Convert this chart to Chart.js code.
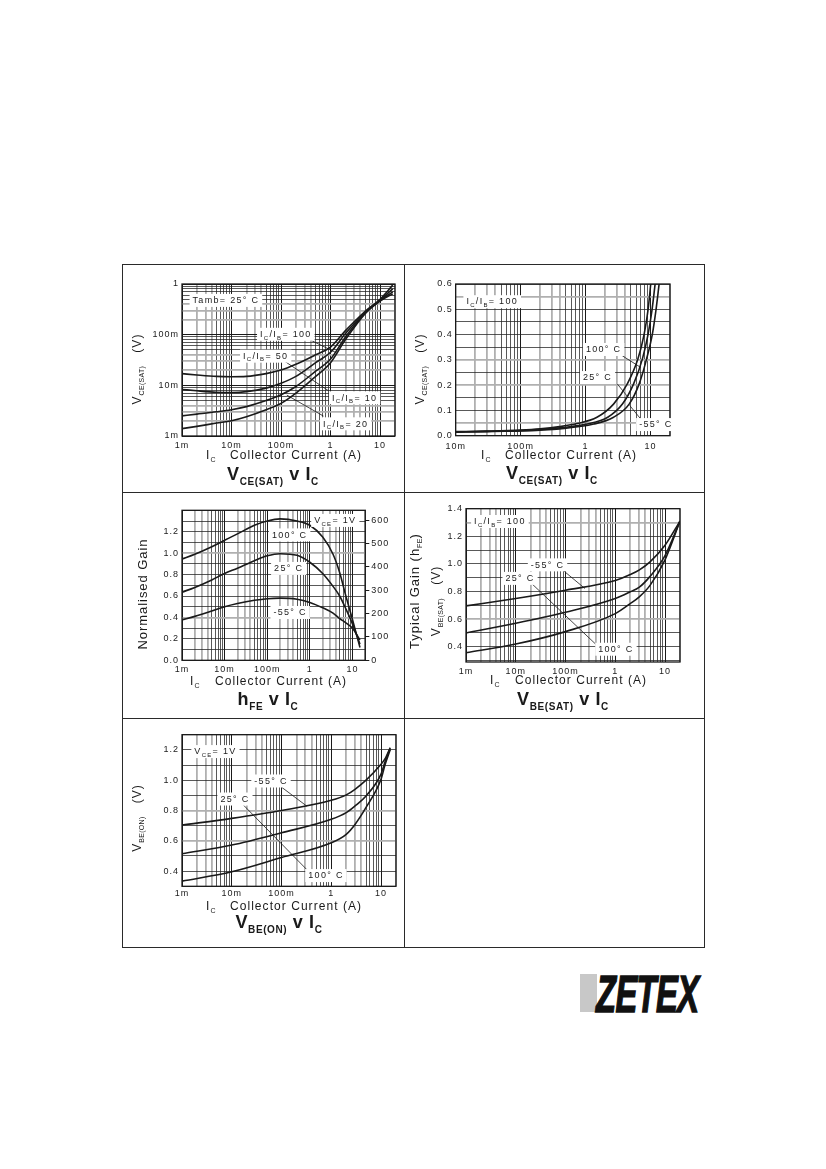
<!DOCTYPE html>
<html>
<head>
<meta charset="utf-8">
<script src="https://cdn.jsdelivr.net/npm/chart.js@4.4.1/dist/chart.umd.min.js"></script>
<style>
  body { margin: 0; background: #fff; }
  #page { position: relative; width: 826px; height: 1169px; overflow: hidden; font-family: "Liberation Sans", Arial, sans-serif; color: #1a1a1a; }
  .rule { position: absolute; background: #2a2a2a; }
  canvas { position: absolute; }
  .t { position: absolute; white-space: nowrap; font-size: 12px; line-height: 12px; letter-spacing: 1.05px; }
  .t sub { font-size: 7px; vertical-align: -3px; letter-spacing: 0.3px; }
  .g { font-size: 13px; line-height: 13px; letter-spacing: 0.95px; }
  .rot { transform: translate(-50%, -50%) rotate(-90deg); }
  .ttl { position: absolute; white-space: nowrap; font-weight: bold; font-size: 18px; line-height: 18px; letter-spacing: 0.6px; transform: translate(-50%, -50%); }
  .ttl sub { font-size: 10px; vertical-align: -5px; }
</style>
</head>
<body>
<div id="page">
  <div class="rule" style="left:122px;top:264px;width:583px;height:1px"></div>
  <div class="rule" style="left:122px;top:947px;width:583px;height:1px"></div>
  <div class="rule" style="left:122px;top:264px;width:1px;height:684px"></div>
  <div class="rule" style="left:704px;top:264px;width:1px;height:684px"></div>
  <div class="rule" style="left:404px;top:264px;width:1px;height:684px"></div>
  <div class="rule" style="left:122px;top:492px;width:583px;height:1px"></div>
  <div class="rule" style="left:122px;top:718px;width:583px;height:1px"></div>

  <canvas id="c1" width="283" height="228" style="left:122px;top:264px"></canvas>
  <canvas id="c2" width="300" height="228" style="left:405px;top:264px"></canvas>
  <canvas id="c3" width="283" height="226" style="left:122px;top:492px"></canvas>
  <canvas id="c4" width="300" height="226" style="left:405px;top:492px"></canvas>
  <canvas id="c5" width="283" height="230" style="left:122px;top:718px"></canvas>

  <!-- axis titles -->
  <div class="t" style="left:206px;top:449px">I<sub>C</sub></div>
  <div class="t" style="left:230px;top:449px">Collector Current (A)</div>
  <div class="t rot" style="left:139px;top:369px">V<sub>CE(SAT)</sub>&nbsp;&nbsp;&nbsp;(V)</div>
  <div class="ttl" style="left:273px;top:478px">V<sub>CE(SAT)</sub> v I<sub>C</sub></div>

  <div class="t" style="left:481px;top:449px">I<sub>C</sub></div>
  <div class="t" style="left:505px;top:449px">Collector Current (A)</div>
  <div class="t rot" style="left:422px;top:369px">V<sub>CE(SAT)</sub>&nbsp;&nbsp;&nbsp;(V)</div>
  <div class="ttl" style="left:552px;top:477px">V<sub>CE(SAT)</sub> v I<sub>C</sub></div>

  <div class="t" style="left:190px;top:675px">I<sub>C</sub></div>
  <div class="t" style="left:215px;top:675px">Collector Current (A)</div>
  <div class="t g rot" style="left:142px;top:594px">Normalised Gain</div>
  <div class="ttl" style="left:268px;top:703px">h<sub>FE</sub> v I<sub>C</sub></div>

  <div class="t" style="left:490px;top:674px">I<sub>C</sub></div>
  <div class="t" style="left:515px;top:674px">Collector Current (A)</div>
  <div class="t g rot" style="left:417px;top:591px">Typical Gain (h<sub>FE</sub>)</div>
  <div class="t rot" style="left:438px;top:601px">V<sub>BE(SAT)</sub>&nbsp;&nbsp;&nbsp;(V)</div>
  <div class="ttl" style="left:563px;top:703px">V<sub>BE(SAT)</sub> v I<sub>C</sub></div>

  <div class="t" style="left:206px;top:900px">I<sub>C</sub></div>
  <div class="t" style="left:230px;top:900px">Collector Current (A)</div>
  <div class="t rot" style="left:139px;top:818px">V<sub>BE(ON)</sub>&nbsp;&nbsp;&nbsp;(V)</div>
  <div class="ttl" style="left:279px;top:926px">V<sub>BE(ON)</sub> v I<sub>C</sub></div>

  <!-- logo -->
  <div style="position:absolute;left:580px;top:974px;width:17px;height:38px;background:#c8c8c8"></div>
  <div style="position:absolute;left:596px;top:968px;font:italic bold 52px/1 'Liberation Sans',Arial,sans-serif;letter-spacing:-1px;transform:scaleX(0.63);transform-origin:0 0;-webkit-text-stroke:1.5px #111;color:#111">ZETEX</div>
</div>

<script>
const INK = '#1a1a1a';
const GREY = '#b0b0b0';
const TICK_FONT = { size: 9 };

// ---- VCE(SAT) v IC at Tamb = 25 C, one curve per IC/IB ----
const satIc = [0.001, 0.002, 0.005, 0.01, 0.02, 0.05, 0.1, 0.2, 0.5, 1, 2, 5, 10, 18];
const sat100 = [0.017, 0.016, 0.015, 0.0148, 0.015, 0.017, 0.02, 0.026, 0.04, 0.057, 0.12, 0.29, 0.5, 0.95];
const sat50 = [0.0083, 0.0078, 0.0073, 0.0072, 0.0075, 0.0088, 0.011, 0.015, 0.028, 0.045, 0.105, 0.28, 0.48, 0.8];
const sat20 = [0.0025, 0.0027, 0.003, 0.0033, 0.0038, 0.005, 0.0065, 0.0095, 0.019, 0.033, 0.09, 0.27, 0.47, 0.7];
const sat10 = [0.0014, 0.00155, 0.0018, 0.002, 0.0024, 0.0033, 0.0044, 0.007, 0.015, 0.028, 0.08, 0.26, 0.46, 0.64];

// ---- VCE(SAT) v IC at IC/IB = 100, per temperature ----
const tsatHotIc = [0.01, 0.03, 0.1, 0.2, 0.4, 0.74, 1.5, 2.7, 4.4, 6.4, 8.0, 9.2, 10.1];
const tsatHot = [0.016, 0.018, 0.022, 0.027, 0.036, 0.048, 0.073, 0.125, 0.205, 0.303, 0.402, 0.5, 0.6];
const tsatRoomIc = [0.01, 0.03, 0.1, 0.2, 0.4, 1.06, 2.2, 3.7, 5.5, 7.5, 9.2, 10.6, 11.8];
const tsatRoom = [0.015, 0.017, 0.02, 0.024, 0.031, 0.046, 0.073, 0.125, 0.205, 0.303, 0.402, 0.5, 0.6];
const tsatColdIc = [0.01, 0.03, 0.1, 0.2, 0.4, 1.34, 2.7, 4.7, 6.7, 8.7, 10.7, 12.2, 13.6];
const tsatCold = [0.014, 0.016, 0.019, 0.022, 0.027, 0.046, 0.073, 0.125, 0.205, 0.303, 0.402, 0.5, 0.6];

// ---- hFE v IC (normalised gain) ----
const gainIc = [0.001, 0.002, 0.005, 0.01, 0.02, 0.05, 0.1, 0.2, 0.5, 1, 2, 3.5, 5, 7, 10, 15];
const gainHot = [0.946, 0.99, 1.06, 1.12, 1.18, 1.26, 1.30, 1.32, 1.30, 1.26, 1.15, 0.99, 0.82, 0.60, 0.38, 0.12];
const gainRoom = [0.636, 0.68, 0.75, 0.81, 0.86, 0.93, 0.975, 0.995, 0.98, 0.915, 0.81, 0.69, 0.60, 0.48, 0.34, 0.15];
const gainCold = [0.378, 0.41, 0.46, 0.50, 0.53, 0.56, 0.575, 0.58, 0.57, 0.54, 0.49, 0.44, 0.39, 0.35, 0.30, 0.19];

// ---- VBE(SAT) v IC ----
const vbeIc = [0.001, 0.01, 0.1, 1, 2, 3, 5, 10, 20];
const vbeCold = [0.696, 0.75, 0.81, 0.88, 0.923, 0.955, 1.015, 1.135, 1.31];
const vbeRoom = [0.50, 0.57, 0.65, 0.75, 0.798, 0.83, 0.91, 1.06, 1.31];
const vbeHot = [0.357, 0.42, 0.51, 0.64, 0.713, 0.76, 0.845, 1.03, 1.31];

// ---- VBE(ON) v IC ----
const onIc = [0.001, 0.01, 0.1, 1, 2, 3, 5, 10, 12, 15.3];
const onCold = [0.704, 0.748, 0.80, 0.867, 0.903, 0.94, 1.0, 1.105, 1.14, 1.215];
const onRoom = [0.515, 0.572, 0.653, 0.742, 0.786, 0.83, 0.896, 1.04, 1.12, 1.21];
const onHot = [0.334, 0.396, 0.49, 0.587, 0.643, 0.708, 0.82, 1.006, 1.10, 1.2];

// tick labels
const ampTicks = [0.001, 0.01, 0.1, 1, 10];
const ampLabels = ['1m', '10m', '100m', '1', '10'];
const ampTicks2 = [0.01, 0.1, 1, 10];
const ampLabels2 = ['10m', '100m', '1', '10'];
const voltLogTicks = [0.001, 0.01, 0.1, 1];
const voltLogLabels = ['1m', '10m', '100m', '1'];
const satTicks = [0, 0.1, 0.2, 0.3, 0.4, 0.5, 0.6];
const satLabels = ['0.0', '0.1', '0.2', '0.3', '0.4', '0.5', '0.6'];
const gainTicks = [0, 0.2, 0.4, 0.6, 0.8, 1.0, 1.2];
const gainLabels = ['0.0', '0.2', '0.4', '0.6', '0.8', '1.0', '1.2'];
const hfeTicks = [0, 100, 200, 300, 400, 500, 600];
const hfeLabels = ['0', '100', '200', '300', '400', '500', '600'];
const vbeTicks = [0.4, 0.6, 0.8, 1.0, 1.2, 1.4];
const vbeLabels = ['0.4', '0.6', '0.8', '1.0', '1.2', '1.4'];
const onTicks = [0.4, 0.6, 0.8, 1.0, 1.2];
const onLabels = ['0.4', '0.6', '0.8', '1.0', '1.2'];

Chart.defaults.font.family = '"Liberation Sans", Arial, sans-serif';
Chart.defaults.color = INK;
Chart.defaults.animation = false;
Chart.defaults.plugins.legend.display = false;
Chart.defaults.plugins.tooltip.enabled = false;

function logGrid(min, max) {
  const out = [];
  for (let e = Math.floor(Math.log10(min) + 1e-9); e <= Math.ceil(Math.log10(max)); e++) {
    for (let m = 1; m < 10; m++) {
      const v = +(m * Math.pow(10, e)).toPrecision(6);
      if (v >= min * 0.9999 && v <= max * 1.0001) out.push(v);
    }
  }
  return out;
}

function linGrid(min, max, step) {
  const out = [];
  const first = Math.ceil(min / step - 1e-6);
  for (let i = first; i * step <= max + 1e-9; i++) out.push(+(i * step).toFixed(4));
  return out;
}

function tickText(v, vals, lbls) {
  const i = vals.findIndex(t => Math.abs(t - v) <= Math.abs(t) * 1e-6 + 1e-9);
  return i < 0 ? '' : lbls[i];
}

// decade lines black, 2-4 grey and heavier, 5-9 fine black
function logLine(v) {
  const m = Math.round(v / Math.pow(10, Math.floor(Math.log10(v) + 1e-9)));
  if (m === 1) return { c: INK, w: 1 };
  if (m <= 4) return { c: GREY, w: 1.8 };
  return { c: '#222', w: 0.75 };
}

function near(list, v) { return list.some(g => Math.abs(g - v) < 1e-6); }

function logAxis(min, max, vals, lbls, pad, fit) {
  return {
    type: 'logarithmic', min, max,
    afterBuildTicks: s => { s.ticks = logGrid(min, max).map(value => ({ value })); },
    afterFit: fit,
    border: { display: false },
    grid: {
      drawTicks: false,
      color: c => c.tick ? logLine(c.tick.value).c : INK,
      lineWidth: c => c.tick ? logLine(c.tick.value).w : 1
    },
    ticks: { autoSkip: false, maxRotation: 0, minRotation: 0, padding: pad, font: TICK_FONT, color: INK,
      callback: v => tickText(v, vals, lbls) }
  };
}

function linAxis(min, max, step, vals, lbls, greys, pad, fit) {
  return {
    type: 'linear', min, max,
    afterBuildTicks: s => { s.ticks = linGrid(min, max, step).map(value => ({ value })); },
    afterFit: fit,
    border: { display: false },
    grid: {
      drawTicks: false,
      color: c => c.tick && near(greys, c.tick.value) ? GREY : '#222',
      lineWidth: c => c.tick && near(greys, c.tick.value) ? 1.8 : 0.75
    },
    ticks: { autoSkip: false, padding: pad, font: TICK_FONT, color: INK,
      callback: v => tickText(v, vals, lbls) }
  };
}

const fitX = s => { s.height = 20; };
const fitY = s => { s.width = 40; };

function series(xs, ys) {
  return {
    data: xs.map((x, i) => ({ x, y: ys[i] })),
    borderColor: INK, borderWidth: 1.6, pointRadius: 0, fill: false,
    cubicInterpolationMode: 'monotone'
  };
}

// text with {sub} parts, on a white box
function drawRich(ctx, str, cx, cy) {
  const parts = str.split(/(\{[^}]*\})/).filter(Boolean)
    .map(p => p[0] === '{' ? { t: p.slice(1, -1), sub: true } : { t: p, sub: false });
  const fMain = '9px "Liberation Sans", Arial, sans-serif';
  const fSub = '6px "Liberation Sans", Arial, sans-serif';
  ctx.letterSpacing = '1.3px';
  let total = 0;
  parts.forEach(p => { ctx.font = p.sub ? fSub : fMain; p.w = ctx.measureText(p.t).width; total += p.w; });
  ctx.fillStyle = '#fff';
  ctx.fillRect(cx - total / 2 - 3, cy - 6, total + 6, 13);
  ctx.fillStyle = INK;
  ctx.textBaseline = 'alphabetic';
  ctx.textAlign = 'left';
  let x = cx - total / 2;
  parts.forEach(p => {
    ctx.font = p.sub ? fSub : fMain;
    ctx.fillText(p.t, x, cy + 3.3 + (p.sub ? 2.5 : 0));
    x += p.w;
  });
}

function notes(labels, lines) {
  return {
    id: 'notes',
    afterDatasetsDraw(chart) {
      const { ctx } = chart;
      const x = chart.scales.x, y = chart.scales.y;
      ctx.save();
      ctx.strokeStyle = INK;
      ctx.lineWidth = 0.8;
      lines.forEach(([x1, y1, x2, y2]) => {
        ctx.beginPath();
        ctx.moveTo(x.getPixelForValue(x1), y.getPixelForValue(y1));
        ctx.lineTo(x.getPixelForValue(x2), y.getPixelForValue(y2));
        ctx.stroke();
      });
      labels.forEach(l => drawRich(ctx, l.t, x.getPixelForValue(l.x), y.getPixelForValue(l.y)));
      ctx.restore();
    }
  };
}

const spacing = {
  id: 'spacing',
  beforeLayout(chart) { chart.ctx.letterSpacing = '1px'; },
  beforeDraw(chart) { chart.ctx.letterSpacing = '1px'; }
};

const frame = {
  id: 'frame',
  beforeDatasetsDraw(chart) {
    const { ctx, chartArea: a } = chart;
    ctx.save();
    ctx.strokeStyle = INK;
    ctx.lineWidth = 1.3;
    ctx.strokeRect(a.left, a.top, a.right - a.left, a.bottom - a.top);
    ctx.restore();
  }
};

function draw(id, datasets, scales, padding, note) {
  new Chart(document.getElementById(id), {
    type: 'line',
    data: { datasets },
    options: { responsive: false, animation: false, layout: { padding }, scales },
    plugins: [spacing, frame, note]
  });
}

draw('c1',
  [series(satIc, sat100), series(satIc, sat50), series(satIc, sat20), series(satIc, sat10)],
  {
    x: logAxis(0.001, 20, ampTicks, ampLabels, 4, fitX),
    y: logAxis(0.001, 1, voltLogTicks, voltLogLabels, 3, fitY)
  },
  { left: 20, right: 10, top: 20, bottom: 36 },
  notes([
    { x: 0.0077, y: 0.485, t: 'Tamb= 25° C' },
    { x: 0.125, y: 0.104, t: 'I{C}/I{B}= 100' },
    { x: 0.049, y: 0.0385, t: 'I{C}/I{B}= 50' },
    { x: 3.07, y: 0.0058, t: 'I{C}/I{B}= 10' },
    { x: 2.02, y: 0.00178, t: 'I{C}/I{B}= 20' }
  ], [
    [0.386, 0.079, 1.33, 0.0436],
    [0.112, 0.031, 0.91, 0.0078],
    [0.72, 0.00247, 0.131, 0.0064]
  ]));

draw('c2',
  [series(tsatHotIc, tsatHot), series(tsatRoomIc, tsatRoom), series(tsatColdIc, tsatCold)],
  {
    x: logAxis(0.01, 20, ampTicks2, ampLabels2, 5, fitX),
    y: linAxis(0, 0.6, 0.05, satTicks, satLabels, [0.55, 0.3, 0.2, 0.05], 3, fitY)
  },
  { left: 10.7, right: 35, top: 20, bottom: 36.3 },
  notes([
    { x: 0.0365, y: 0.532, t: 'I{C}/I{B}= 100' },
    { x: 1.9, y: 0.343, t: '100° C' },
    { x: 1.53, y: 0.232, t: '25° C' },
    { x: 12.1, y: 0.046, t: '-55° C' }
  ], [
    [3.69, 0.316, 7.08, 0.27],
    [3.09, 0.2045, 4.62, 0.149],
    [7.08, 0.066, 4.78, 0.12]
  ]));

draw('c3',
  [series(gainIc, gainHot), series(gainIc, gainRoom), series(gainIc, gainCold)],
  {
    x: logAxis(0.001, 20, ampTicks, ampLabels, 4, fitX),
    y: linAxis(0, 1.4, 0.1, gainTicks, gainLabels, [1.0, 0.4], 3, fitY),
    y2: {
      type: 'linear', position: 'right', min: 0, max: 642,
      afterBuildTicks: s => { s.ticks = hfeTicks.map(value => ({ value })); },
      afterFit: s => { s.width = 30; },
      border: { display: false },
      grid: { drawOnChartArea: false, drawTicks: true, tickLength: 4, color: INK, lineWidth: 1 },
      ticks: { autoSkip: false, padding: 2, font: TICK_FONT, color: INK, callback: v => tickText(v, hfeTicks, hfeLabels) }
    }
  },
  { left: 20, right: 9.7, top: 18.3, bottom: 37.7 },
  notes([
    { x: 3.95, y: 1.31, t: 'V{CE}= 1V' },
    { x: 0.336, y: 1.175, t: '100° C' },
    { x: 0.318, y: 0.862, t: '25° C' },
    { x: 0.345, y: 0.451, t: '-55° C' }
  ], []));

draw('c4',
  [series(vbeIc, vbeCold), series(vbeIc, vbeRoom), series(vbeIc, vbeHot)],
  {
    x: logAxis(0.001, 20, ampTicks, ampLabels, 4, fitX),
    y: linAxis(0.29, 1.4, 0.1, vbeTicks, vbeLabels, [1.3, 0.6], 3, fitY)
  },
  { left: 21, right: 25, top: 16.7, bottom: 36 },
  notes([
    { x: 0.0048, y: 1.311, t: 'I{C}/I{B}= 100' },
    { x: 0.0435, y: 0.997, t: '-55° C' },
    { x: 0.0122, y: 0.899, t: '25° C' },
    { x: 1.03, y: 0.386, t: '100° C' }
  ], [
    [0.0837, 0.962, 0.246, 0.822],
    [0.0209, 0.858, 0.424, 0.412]
  ]));

draw('c5',
  [series(onIc, onCold), series(onIc, onRoom), series(onIc, onHot)],
  {
    x: logAxis(0.001, 20, ampTicks, ampLabels, 2, fitX),
    y: linAxis(0.3, 1.3, 0.1, onTicks, onLabels, [0.8, 0.6], 3, fitY)
  },
  { left: 20, right: 9, top: 16.7, bottom: 41.7 },
  notes([
    { x: 0.0047, y: 1.192, t: 'V{CE}= 1V' },
    { x: 0.0615, y: 0.998, t: '-55° C' },
    { x: 0.0116, y: 0.879, t: '25° C' },
    { x: 0.783, y: 0.374, t: '100° C' }
  ], [
    [0.0946, 0.96, 0.325, 0.828],
    [0.0174, 0.834, 0.325, 0.409]
  ]));
</script>
</body>
</html>
